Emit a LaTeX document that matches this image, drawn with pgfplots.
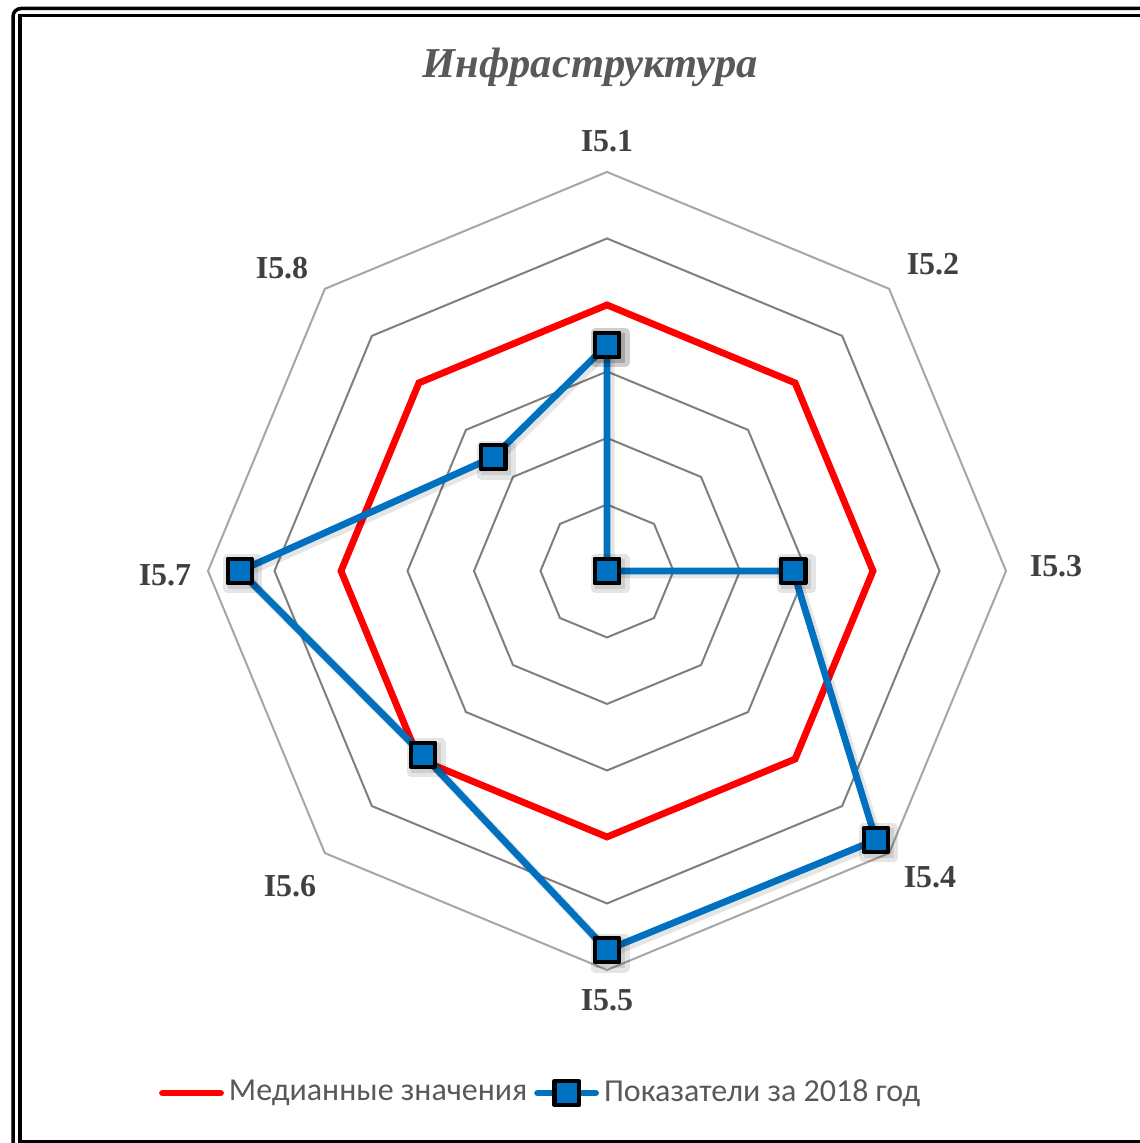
\documentclass[border=0pt]{standalone}
\usepackage{fontspec}
\setmainfont{Liberation Serif}[BoldFont={Liberation Serif Bold}, ItalicFont={Liberation Serif Italic}, BoldItalicFont={Liberation Serif Bold Italic}]
\newfontfamily\legendfont{Carlito}
\usepackage{pgfplots}
\pgfplotsset{compat=1.18}
\definecolor{xlblue}{HTML}{0070C0}
\definecolor{xlred}{HTML}{FF0000}
\definecolor{titlegray}{HTML}{595959}
\definecolor{labgray}{HTML}{404040}
\definecolor{ringdark}{HTML}{7F7F7F}
\definecolor{ringlight}{HTML}{A6A6A6}
\begin{document}
\begin{tikzpicture}
\useasboundingbox (0,0) rectangle (11.39cm,11.43cm);
\begin{axis}[at={(0,0)}, anchor=south west, scale only axis,
  width=11.39cm, height=11.43cm,
  xmin=-9.128, xmax=8.0, ymin=-8.602, ymax=8.586,
  hide axis, clip=false,
  every axis plot/.append style={data cs=polar},
  legend columns=2,
  legend image code/.code={\draw[mark repeat=2,mark phase=2,#1] plot coordinates {(0cm,0cm) (0.29cm,0cm) (0.58cm,0cm)};},
  legend style={at={(0.476,0.0437)}, anchor=center, draw=none, fill=none,
    font=\legendfont\fontsize{9.1pt}{11pt}\selectfont, text=titlegray,
    /tikz/every even column/.append style={column sep=0.02cm},
    nodes={inner xsep=0.05cm},
    inner sep=0pt},
  legend cell align=left,
]
% grid rings
\addplot[forget plot, draw=ringdark, line width=0.02cm] coordinates {(90,1) (45,1) (0,1) (-45,1) (-90,1) (-135,1) (180,1) (135,1) (90,1) (45,1)};
\addplot[forget plot, draw=ringdark, line width=0.02cm] coordinates {(90,2) (45,2) (0,2) (-45,2) (-90,2) (-135,2) (180,2) (135,2) (90,2) (45,2)};
\addplot[forget plot, draw=ringdark, line width=0.02cm] coordinates {(90,3) (45,3) (0,3) (-45,3) (-90,3) (-135,3) (180,3) (135,3) (90,3) (45,3)};
\addplot[forget plot, draw=ringdark, line width=0.02cm] coordinates {(90,4) (45,4) (0,4) (-45,4) (-90,4) (-135,4) (180,4) (135,4) (90,4) (45,4)};
\addplot[forget plot, draw=ringdark, line width=0.02cm] coordinates {(90,5) (45,5) (0,5) (-45,5) (-90,5) (-135,5) (180,5) (135,5) (90,5) (45,5)};
\addplot[forget plot, draw=ringlight, line width=0.02cm] coordinates {(90,6) (45,6) (0,6) (-45,6) (-90,6) (-135,6) (180,6) (135,6) (90,6) (45,6)};
% median
\addplot[draw=xlred, line width=0.068cm, line join=miter, line cap=round, no marks] coordinates {(90,4) (45,4) (0,4) (-45,4) (-90,4) (-135,4) (180,4) (135,4) (90,4) (45,4)};
\addlegendentry{Медианные значения}
% soft shadow of 2018
\addplot[forget plot, draw=black, opacity=0.10, line width=0.09cm, xshift=0.03cm, yshift=-0.03cm, line join=round,
  mark=square*, mark size=0.15cm, mark options={fill=black, draw=none}] coordinates {(90,3.4) (45,0) (0,2.8) (-45,5.72) (-90,5.7) (-135,3.91) (180,5.52) (135,2.42) (90,3.4)};
% 2018
\addplot[draw=xlblue, line width=0.068cm, line join=round, line cap=round,
  mark=square*, mark size=0.122cm, mark options={fill=xlblue, draw=black, line width=0.042cm, solid}] coordinates {(90,3.4) (45,0) (0,2.8) (-45,5.72) (-90,5.7) (-135,3.91) (180,5.52) (135,2.42) (90,3.4) (45,0)};
\addlegendentry{Показатели за 2018 год}
% title and axis labels
\node[text=titlegray, font=\bfseries\itshape\fontsize{12.1pt}{14pt}\selectfont] at (axis cs:-0.256,7.579) {Инфраструктура};
\node[text=labgray, font=\bfseries\fontsize{9.1pt}{11pt}\selectfont] at (axis cs:0,6.466) {I5.1};
\node[text=labgray, font=\bfseries\fontsize{9.1pt}{11pt}\selectfont] at (axis cs:4.902,4.617) {I5.2};
\node[text=labgray, font=\bfseries\fontsize{9.1pt}{11pt}\selectfont] at (axis cs:6.752,0.075) {I5.3};
\node[text=labgray, font=\bfseries\fontsize{9.1pt}{11pt}\selectfont] at (axis cs:4.857,-4.602) {I5.4};
\node[text=labgray, font=\bfseries\fontsize{9.1pt}{11pt}\selectfont] at (axis cs:0,-6.451) {I5.5};
\node[text=labgray, font=\bfseries\fontsize{9.1pt}{11pt}\selectfont] at (axis cs:-4.767,-4.737) {I5.6};
\node[text=labgray, font=\bfseries\fontsize{9.1pt}{11pt}\selectfont] at (axis cs:-6.647,-0.06) {I5.7};
\node[text=labgray, font=\bfseries\fontsize{9.1pt}{11pt}\selectfont] at (axis cs:-4.887,4.556) {I5.8};
\end{axis}
% frame
\draw[line width=0.035cm, rounded corners=0.08cm] (0.13cm,-0.5cm) -- (0.13cm,11.345cm) -- (12cm,11.345cm);
\draw[line width=0.035cm] (12cm,0.015cm) -- (0.20cm,0.015cm) -- (0.20cm,11.275cm) -- (12cm,11.275cm);
\end{tikzpicture}
\end{document}
